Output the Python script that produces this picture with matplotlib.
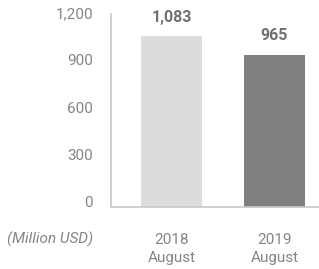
import matplotlib.pyplot as plt
import matplotlib.transforms as mtransforms

plt.rcParams['font.family'] = ['Roboto', 'DejaVu Sans']

categories = ['2018\nAugust', '2019\nAugust']
values = [1083, 965]
value_labels = ['1,083', '965']
yticks = [0, 300, 600, 900, 1200]
ytick_labels = ['0', '300', '600', '900', '1,200']
colors = ['#dcdcdd', '#7f7f82']
txt_color = '#858585'

fig = plt.figure(figsize=(3.19, 2.69), dpi=100)
ax = fig.add_axes([0.348, 0.2305, 0.652, 0.7175])

x = range(len(values))
bars = ax.bar(x, values, width=0.59, color=colors)

for b, lab in zip(bars, value_labels):
    ax.annotate(lab, (b.get_x() + b.get_width() / 2, b.get_height()),
                xytext=(0, 8), textcoords='offset points',
                ha='center', va='bottom', fontsize=11.5, fontweight='bold',
                color='#707070')

ax.set_xlim(-0.587, 1.432)
ax.set_ylim(0, 1222)
ax.set_yticks(yticks)
ax.set_yticklabels(ytick_labels, fontsize=11, color=txt_color)
ax.set_xticks(list(x))
ax.set_xticklabels(categories, fontsize=11, color=txt_color, linespacing=1.3)
ax.tick_params(axis='y', length=0, pad=13)
ax.tick_params(axis='x', length=0, pad=19)

# nudge y labels up a little, like the original
shift = mtransforms.ScaledTranslation(0, 5 / 100, fig.dpi_scale_trans)
for t in ax.get_yticklabels():
    t.set_transform(t.get_transform() + shift)

for s in ['top', 'right']:
    ax.spines[s].set_visible(False)
for s in ['left', 'bottom']:
    ax.spines[s].set_color('#c8c8c8')
    ax.spines[s].set_linewidth(1.2)

fig.text(93 / 319, 1 - 239 / 269, '(Million USD)', ha='right', va='center',
         fontsize=11, style='italic', color=txt_color)

fig.savefig('out.png', dpi=100)
